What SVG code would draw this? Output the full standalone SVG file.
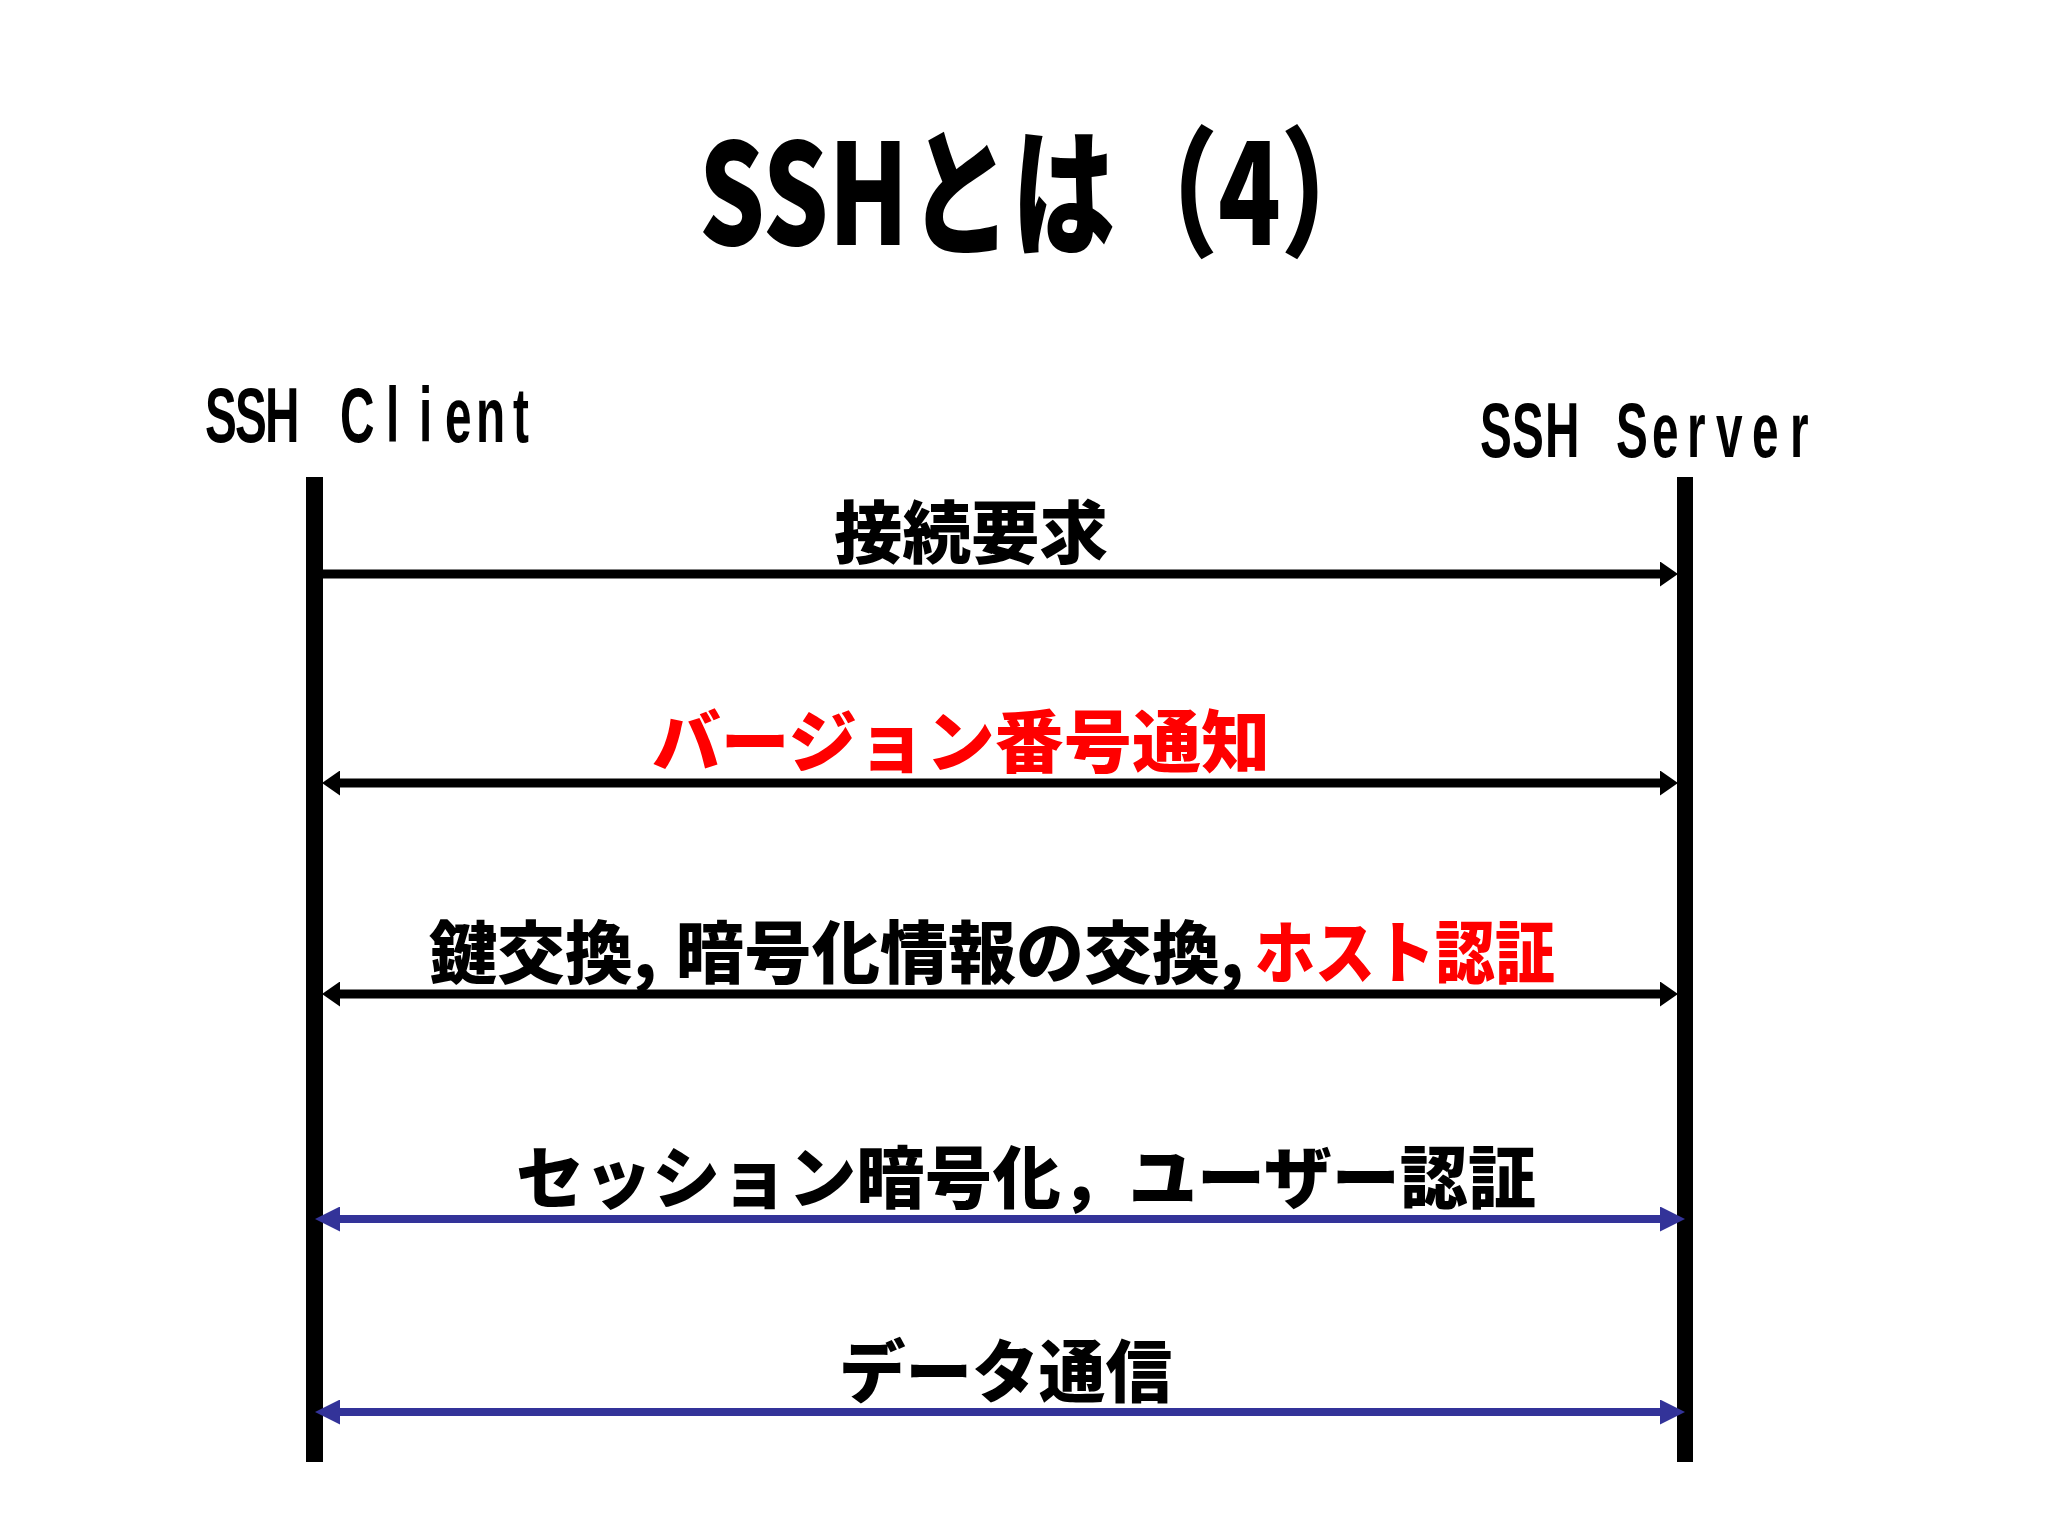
<svg xmlns="http://www.w3.org/2000/svg" width="2048" height="1536" viewBox="0 0 2048 1536">
  <style>
    .jp { font-family: "Noto Sans CJK JP", "Noto Sans", sans-serif; font-weight: 900; font-size: 68px; fill: #000; }
    .ttl { font-family: "Noto Sans CJK JP", "Noto Sans", sans-serif; font-weight: 900; font-size: 140px; fill: #000; }
    .red { fill: #FF0000; }
    .lbl { font-family: "Liberation Sans", Arial, sans-serif; font-weight: bold; font-size: 77px; fill: #000; }
    .life { fill: #000; }
    .msg { stroke: #000; stroke-width: 9; fill: none; }
    .msgb { stroke: #333399; stroke-width: 8; fill: none; }
  </style>
  <defs>
    <marker id="ahK" markerUnits="userSpaceOnUse" viewBox="0 0 18 25" markerWidth="18" markerHeight="25" refX="0" refY="12.5" orient="auto-start-reverse">
      <path d="M0,0 L18,12.5 L0,25 Z" fill="#000"/>
    </marker>
    <marker id="ahB" markerUnits="userSpaceOnUse" viewBox="0 0 25 25" markerWidth="25" markerHeight="25" refX="0" refY="12.5" orient="auto-start-reverse">
      <path d="M0,0 L25,12.5 L0,25 Z" fill="#333399"/>
    </marker>
  </defs>
  <rect width="2048" height="1536" fill="#fff"/>

  <g id="title">
    <text class="ttl" x="699" y="245" textLength="685" lengthAdjust="spacingAndGlyphs">SSHとは（4）</text>
  </g>

  <g id="client">
    <text class="lbl" transform="scale(0.62,1)" x="330.6 379 427.4 483.9 548.4 622.6 675.8 717.7 767.7 827.4" y="442">SSH Client</text>
    <rect class="life" x="306" y="477" width="17" height="985"/>
  </g>

  <g id="server">
    <text class="lbl" transform="scale(0.62,1)" x="2387.1 2438.7 2491.9 2556.5 2606.5 2664.5 2721 2767.7 2825.8 2887.1" y="457">SSH Server</text>
    <rect class="life" x="1677" y="477" width="16" height="985"/>
  </g>

  <g id="connectors">
    <g id="msg1">
      <line class="msg" x1="323" y1="574" x2="1660" y2="574" marker-end="url(#ahK)"/>
      <text class="jp" x="834" y="558" textLength="274" lengthAdjust="spacingAndGlyphs">接続要求</text>
    </g>
    <g id="msg2">
      <line class="msg" x1="340" y1="783" x2="1660" y2="783" marker-start="url(#ahK)" marker-end="url(#ahK)"/>
      <text class="jp red" x="652" y="767" textLength="618" lengthAdjust="spacingAndGlyphs">バージョン番号通知</text>
    </g>
    <g id="msg3">
      <line class="msg" x1="340" y1="994" x2="1660" y2="994" marker-start="url(#ahK)" marker-end="url(#ahK)"/>
      <text class="jp" y="978"><tspan x="429">鍵交換,</tspan> <tspan x="676">暗号化情報の交換,</tspan></text>
      <text class="jp red" x="1255" y="978" textLength="300" lengthAdjust="spacingAndGlyphs">ホスト認証</text>
    </g>
    <g id="msg4">
      <line class="msgb" x1="340" y1="1219" x2="1660" y2="1219" marker-start="url(#ahB)" marker-end="url(#ahB)"/>
      <text class="jp" x="516" y="1203" textLength="1020" lengthAdjust="spacingAndGlyphs">セッション暗号化，ユーザー認証</text>
    </g>
    <g id="msg5">
      <line class="msgb" x1="340" y1="1412" x2="1660" y2="1412" marker-start="url(#ahB)" marker-end="url(#ahB)"/>
      <text class="jp" x="839" y="1397" textLength="333" lengthAdjust="spacingAndGlyphs">データ通信</text>
    </g>
  </g>
</svg>
